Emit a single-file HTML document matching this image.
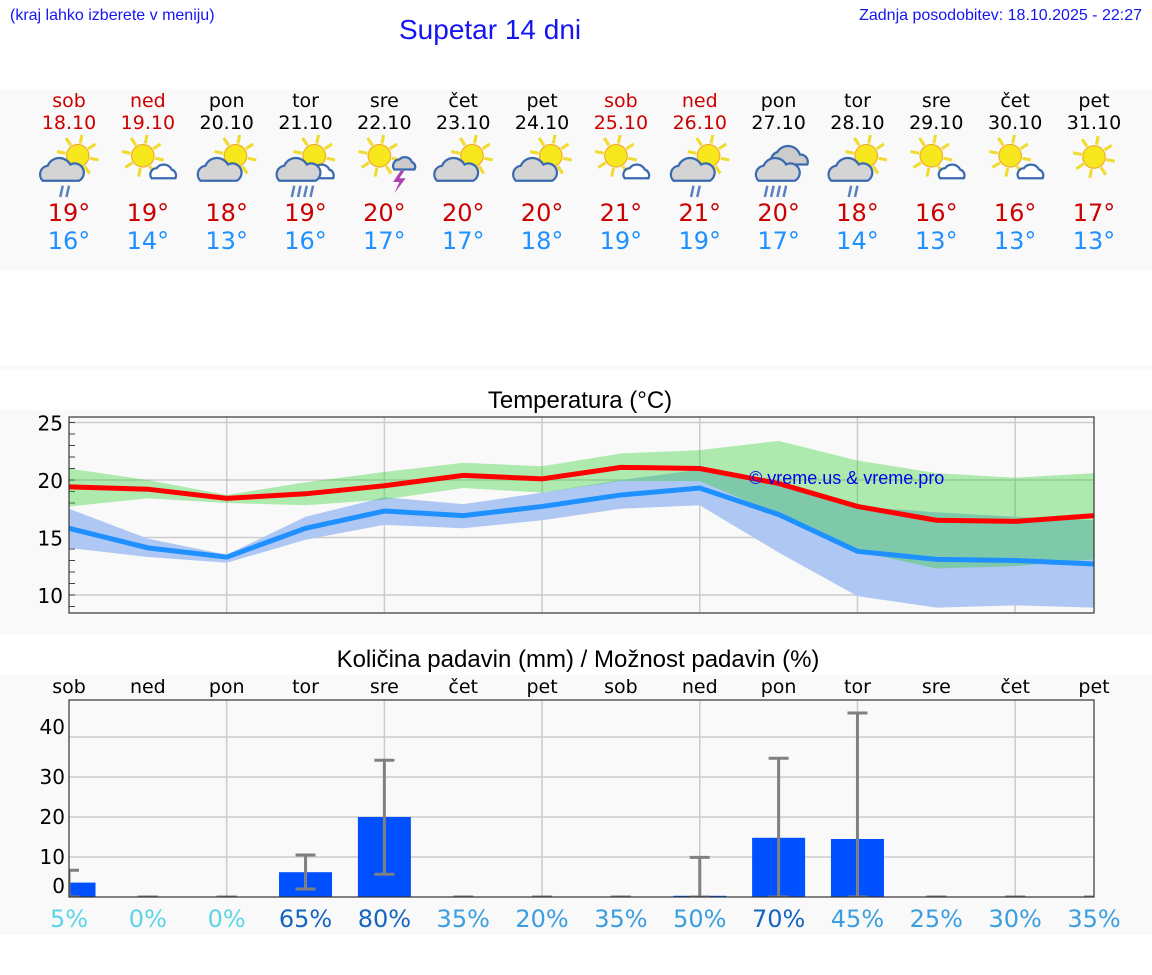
<!DOCTYPE html>
<html><head><meta charset="utf-8"><style>
body{margin:0;width:1152px;height:975px;background:#fff;overflow:hidden;position:relative;font-family:"DejaVu Sans",sans-serif}
.t{position:absolute;white-space:nowrap}
</style></head><body>
<div class="t" style="left:10px;top:7px;font:16px 'Liberation Sans',sans-serif;color:#1515f0">(kraj lahko izberete v meniju)</div>
<div class="t" style="left:399px;top:14px;font:28px 'Liberation Sans',sans-serif;color:#1515f0">Supetar 14 dni</div>
<div class="t" style="right:10px;top:7px;font:16px 'Liberation Sans',sans-serif;color:#1515f0">Zadnja posodobitev: 18.10.2025 - 22:27</div>
<svg id="s" width="1152" height="975" style="position:absolute;left:0;top:0"></svg>
<script>
const days=["sob","ned","pon","tor","sre","čet","pet","sob","ned","pon","tor","sre","čet","pet"];
const dates=["18.10","19.10","20.10","21.10","22.10","23.10","24.10","25.10","26.10","27.10","28.10","29.10","30.10","31.10"];
const hiTxt=[19,19,18,19,20,20,20,21,21,20,18,16,16,17];
const loTxt=[16,14,13,16,17,17,18,19,19,17,14,13,13,13];
const icons=["scr","sc","sC","scR","st","sC","sC","sc","scr","CR","scr","sc","sc","s"];
const maxLine=[19.4,19.2,18.4,18.8,19.5,20.4,20.1,21.1,21.0,19.7,17.7,16.5,16.4,16.9];
const maxHi=[21.0,20.0,18.7,19.8,20.7,21.5,21.2,22.3,22.6,23.4,21.7,20.6,20.2,20.6];
const maxLo=[17.7,18.4,18.0,17.8,18.3,19.3,18.9,19.9,19.9,17.0,13.8,12.3,12.5,13.1];
const minLine=[15.8,14.1,13.3,15.8,17.3,16.9,17.7,18.7,19.3,17.0,13.8,13.1,13.0,12.7];
const minHi=[17.5,14.9,13.5,16.8,18.5,17.9,18.9,20.0,20.9,19.7,17.7,17.2,16.8,16.5];
const minLo=[14.1,13.3,12.8,14.8,16.1,15.8,16.5,17.5,17.8,13.7,9.9,8.9,9.1,8.9];
const precip=[3.6,0,0,6.2,20,0,0,0,0.3,14.8,14.5,0,0,0];
const errLo=[0,0,0,2.0,5.7,0,0,0,0,0,0,0,0,0];
const errHi=[6.7,0,0,10.5,34.2,0,0,0,9.9,34.7,46,0,0,0];
const chance=[5,0,0,65,80,35,20,35,50,70,45,25,30,35];
const tTicks=[10,15,20,25];
const pTicks=[0,10,20,30,40];

const S=document.getElementById('s');const NS="http://www.w3.org/2000/svg";
function el(tag,at,txt){const e=document.createElementNS(NS,tag);for(const k in at)e.setAttribute(k,at[k]);if(txt!==undefined)e.textContent=txt;S.appendChild(e);return e;}
const X=i=>69+i*78.846;
const TY=t=>480-(t-20)*11.5;
const PY=m=>897-m*4;
let b;
b=el('rect',{x:0,y:90,width:1152,height:180,fill:'#f9f9f9'});
b=el('rect',{x:0,y:365,width:1152,height:5,fill:'#f9f9f9'});
b=el('rect',{x:0,y:410,width:1152,height:225,fill:'#f9f9f9'});
b=el('rect',{x:0,y:675,width:1152,height:260,fill:'#f9f9f9'});

function icon(cx,type){
  const g=el('g',{transform:`translate(${cx},167) scale(1.25)`});
  
  const add=(tag,at)=>{const e=document.createElementNS(NS,tag);for(const k in at)e.setAttribute(k,at[k]);g.appendChild(e);};
  if(type.includes('s')){
    const sx=type==='s'?0:(type.includes('C')||type.includes('r')||type.includes('R')?7:-4), sy=type==='s'?-8:-9;
    for(let k=0;k<8;k++){const a=k*Math.PI/4+0.2;add('line',{x1:sx+Math.cos(a)*10,y1:sy+Math.sin(a)*10,x2:sx+Math.cos(a)*17,y2:sy+Math.sin(a)*17,stroke:'#f0dc30','stroke-width':2.5});}
    add('circle',{cx:sx,cy:sy,r:9,fill:'#f6e81c',stroke:'#f0b030','stroke-width':1});
  }
  const big=type.includes('C')||type.includes('r')||type.includes('R');
  if(type.includes('c')&&!type.includes('r')){add('path',{d:'M3 9 a5 5 0 0 1 4-8 a7 7 0 0 1 12 1 a5 5 0 0 1 3 7 z',fill:'#fff',stroke:'#3a6ab0','stroke-width':1.8});}
  if(big){
    const ox=type.startsWith('C')?0:-5;
    if(type.startsWith('C'))add('path',{d:`M${ox-6} -2 a8 8 0 0 1 5-10 a10 10 0 0 1 18 2 a6 6 0 0 1 6 8 z`,fill:'#ccc',stroke:'#3a6ab0','stroke-width':1.8});
    add('path',{d:`M${ox-16} 11 a7 7 0 0 1 4-12 a10 10 0 0 1 18 -1 a7 7 0 0 1 7 13 z`,fill:'#d4d4d4',stroke:'#3a6ab0','stroke-width':1.8});
  }
  if(type.includes('r')){for(let k=0;k<2;k++)add('line',{x1:-5+k*5,y1:15,x2:-7+k*5,y2:24,stroke:'#5a80c0','stroke-width':2});}
  if(type.includes('R')){for(let k=0;k<4;k++)add('line',{x1:-9+k*5,y1:15,x2:-11+k*5,y2:24,stroke:'#5a80c0','stroke-width':2});}
  if(type.includes('t')){add('path',{d:'M8 2 a5 5 0 0 1 4-8 a6 6 0 0 1 10 2 a4 4 0 0 1 2 6 z',fill:'#ccc',stroke:'#3a6ab0','stroke-width':1.8});add('path',{d:'M13 3 l-6 9 h5 l-4 9 l9-12 h-5 l4-6 z',fill:'#b040b0'});}
}
days.forEach((d,i)=>{
  const c=(d==='sob'||d==='ned')?'#cc0000':'#000';
  let e=el('text',{x:X(i),y:107,'text-anchor':'middle','font-size':19,fill:c},d);
  e=el('text',{x:X(i),y:129,'text-anchor':'middle','font-size':19,fill:c},dates[i]);
  icon(X(i),icons[i]);
  e=el('text',{x:X(i),y:221,'text-anchor':'middle','font-size':24,fill:'#cc0000'},hiTxt[i]+'°');
  e=el('text',{x:X(i),y:249,'text-anchor':'middle','font-size':24,fill:'#1e90ff'},loTxt[i]+'°');
});
let e=el('text',{x:580,y:408,'text-anchor':'middle','font-size':24,'font-family':'Liberation Sans, sans-serif'},'Temperatura (°C)');
const L=69,R=1094,T1=417,B1=613;
e=el('rect',{x:L,y:T1,width:R-L,height:B1-T1,fill:'#f9f9f9'});
tTicks.forEach(t=>{e=el('line',{x1:L,x2:R,y1:TY(t),y2:TY(t),stroke:'#ccc','stroke-width':1.5});
 e=el('text',{x:63,y:TY(t)+8,'text-anchor':'end','font-size':20},t);});
for(let t=9;t<=25;t++){e=el('line',{x1:L,x2:L+6,y1:TY(t),y2:TY(t),stroke:'#444','stroke-width':1});}
for(let i=2;i<13;i+=2){e=el('line',{x1:X(i),x2:X(i),y1:T1,y2:B1,stroke:'#ccc','stroke-width':1.5});}
const band=(hi,lo)=>hi.map((v,i)=>X(i)+','+TY(v)).join(' ')+' '+lo.map((v,i)=>X(i)+','+TY(v)).reverse().join(' ');
const line=a=>a.map((v,i)=>X(i)+','+TY(v)).join(' ');
e=el('polygon',{points:band(minHi,minLo),fill:'#afc7f3'});
e=el('polygon',{points:band(maxHi,maxLo),fill:'rgb(34,206,34)','fill-opacity':0.35});
e=el('polyline',{points:line(maxLine),fill:'none',stroke:'#ff0000','stroke-width':5});
e=el('polyline',{points:line(minLine),fill:'none',stroke:'#1e90ff','stroke-width':5});
e=el('text',{x:749,y:484,'font-size':18,fill:'#0000ee','font-family':'Liberation Sans, sans-serif'},'© vreme.us & vreme.pro');
e=el('rect',{x:L,y:T1,width:R-L,height:B1-T1,fill:'none',stroke:'#333','stroke-width':1.2});
e=el('text',{x:578,y:667,'text-anchor':'middle','font-size':24,'font-family':'Liberation Sans, sans-serif'},'Količina padavin (mm) / Možnost padavin (%)');
const T2=700,B2=897;
e=el('rect',{x:L,y:T2,width:R-L,height:B2-T2,fill:'#f9f9f9'});
pTicks.forEach(t=>{if(t>0){e=el('line',{x1:L,x2:R,y1:PY(t),y2:PY(t),stroke:'#ccc','stroke-width':1.5});}
 const ly=t===40?PY(t)-10:(t===0?PY(t)-11:PY(t));
 e=el('text',{x:65,y:ly+7,'text-anchor':'end','font-size':20},t);});
for(let i=2;i<13;i+=2){e=el('line',{x1:X(i),x2:X(i),y1:T2,y2:B2,stroke:'#ccc','stroke-width':1.5});}
const clip=el('clipPath',{id:'pc'});const cr=document.createElementNS(NS,'rect');cr.setAttribute('x',L);cr.setAttribute('y',T2);cr.setAttribute('width',R-L);cr.setAttribute('height',B2-T2);clip.appendChild(cr);
const pg=el('g',{'clip-path':'url(#pc)'});
precip.forEach((v,i)=>{
  e=document.createElementNS(NS,'rect');e.setAttribute('x',X(i)-26.5);e.setAttribute('y',PY(v));e.setAttribute('width',53);e.setAttribute('height',B2-PY(v));e.setAttribute('fill','#0050ff');
  pg.appendChild(e);
  const mk=(x1,y1,x2,y2,n)=>{const l=document.createElementNS(NS,'line');l.setAttribute('x1',x1);l.setAttribute('y1',y1);l.setAttribute('x2',x2);l.setAttribute('y2',y2);l.setAttribute('stroke','#808080');l.setAttribute('stroke-width',3);
    pg.appendChild(l);};
  mk(X(i),PY(errLo[i]),X(i),PY(errHi[i]),'error-bar');
  mk(X(i)-10,PY(errHi[i]),X(i)+10,PY(errHi[i]),'error-cap-top');
  mk(X(i)-10,PY(errLo[i]),X(i)+10,PY(errLo[i]),'error-cap-bottom');
});
e=el('rect',{x:L,y:T2,width:R-L,height:B2-T2,fill:'none',stroke:'#333','stroke-width':1.2});
days.forEach((d,i)=>{
  e=el('text',{x:X(i),y:693,'text-anchor':'middle','font-size':19},d);
  const p=chance[i];const c=p<=5?'#5dd5e8':(p>=65?'#1565c0':'#3a9ee0');
  e=el('text',{x:X(i),y:927,'text-anchor':'middle','font-size':24,fill:c},p+'%');
});
</script>
</body></html>
